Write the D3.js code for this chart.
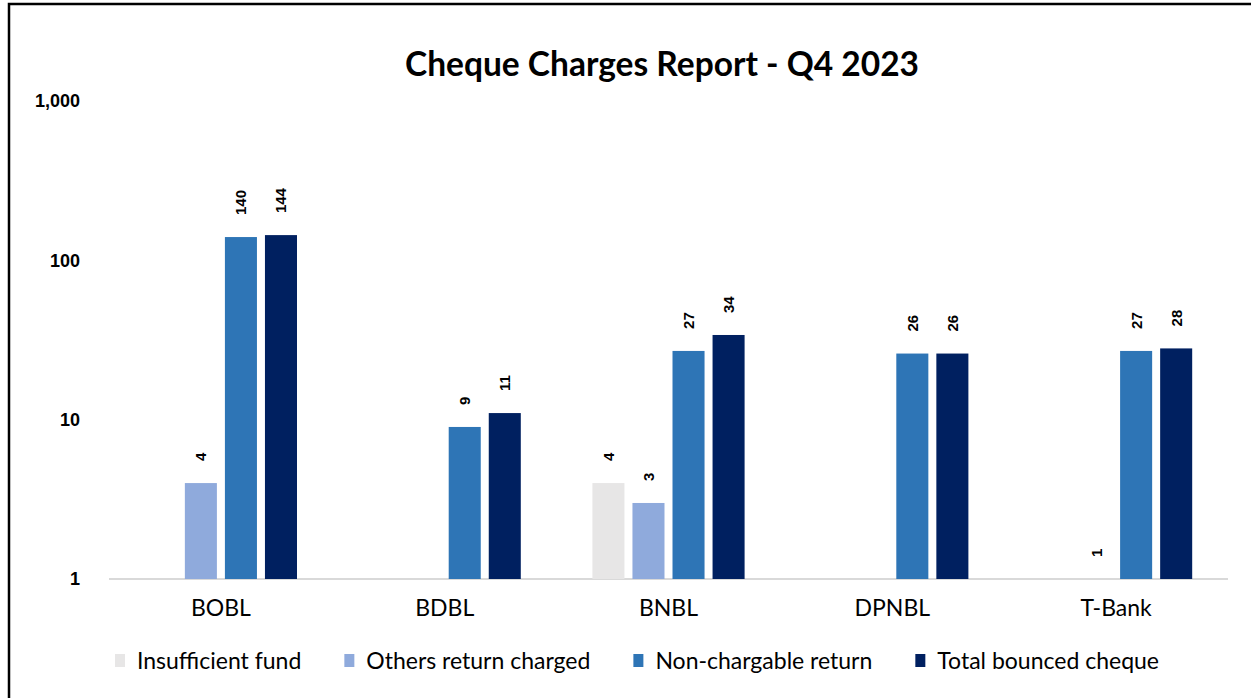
<!DOCTYPE html>
<html>
<head>
<meta charset="utf-8">
<script src="https://cdn.jsdelivr.net/npm/d3@7.9.0/dist/d3.min.js"></script>
<style>
  body { margin: 0; background: #fff; }
  svg { display: block; }
</style>
</head>
<body>
<svg id="chart" width="1251" height="698"></svg>
<script>
// chart data
const categories = ["BOBL", "BDBL", "BNBL", "DPNBL", "T-Bank"];
const seriesNames = ["Insufficient fund", "Others return charged", "Non-chargable return", "Total bounced cheque"];
const insufficientFund = [null, null, 4, null, null];
const othersReturnCharged = [4, null, 3, null, 1];
const nonChargableReturn = [140, 9, 27, 26, 27];
const totalBouncedCheque = [144, 11, 34, 26, 28];
const yTicks = [1, 10, 100, 1000];
const seriesColors = ["#e7e6e6", "#8faadc", "#2e75b6", "#002060"];

const seriesValues = [insufficientFund, othersReturnCharged, nonChargableReturn, totalBouncedCheque];

const svg = d3.select("#chart");
const labelFont = "Lato, 'Open Sans', sans-serif";

// outer frame
svg.append("rect")
  .attr("x", 9).attr("y", 4)
  .attr("width", 1400).attr("height", 900)
  .attr("fill", "none")
  .attr("stroke", "#000")
  .attr("stroke-width", 2.5);

// scales
let x0 = d3.scaleBand().domain(categories).range([109, 1228]).paddingInner(0.32).paddingOuter(0.16);
let x1 = d3.scaleBand().domain(seriesNames).range([0, x0.bandwidth()]).paddingInner(0.2);
let y = d3.scaleLog().domain([1, 1000]).range([579, 101]);

// title
svg.append("text")
  .attr("x", 662).attr("y", 76)
  .attr("text-anchor", "middle")
  .attr("font-family", labelFont)
  .attr("font-weight", "bold")
  .attr("font-size", 33.5)
  .attr("fill", "#000")
  .text("Cheque Charges Report - Q4 2023");

// y axis (labels only)
let yAxis = svg.append("g")
  .attr("transform", "translate(80,0)")
  .call(d3.axisLeft(y).tickValues(yTicks).tickFormat(d3.format(",")).tickSize(0).tickPadding(0));
yAxis.select(".domain").remove();
yAxis.selectAll("text")
  .attr("font-family", "'Liberation Sans', Arial, sans-serif")
  .attr("font-weight", "bold")
  .attr("font-size", 18)
  .attr("fill", "#000");

// baseline
svg.append("line")
  .attr("x1", 109).attr("x2", 1228)
  .attr("y1", y(1)).attr("y2", y(1))
  .attr("stroke", "#d9d9d9")
  .attr("stroke-width", 2);

// x axis (labels only)
let xAxis = svg.append("g")
  .attr("transform", `translate(0,${y(1)})`)
  .call(d3.axisBottom(x0).tickSize(0));
xAxis.select(".domain").remove();
xAxis.selectAll("text")
  .attr("y", 37).attr("dy", null)
  .attr("font-family", labelFont)
  .attr("font-size", 23)
  .attr("fill", "#000");

// bars + rotated value labels
categories.forEach((cat, ci) => {
  let g = svg.append("g").attr("transform", `translate(${x0(cat)},0)`);
  seriesNames.forEach((name, si) => {
    let v = seriesValues[si][ci];
    if (v == null) return;
    g.append("rect")
      .attr("x", x1(name))
      .attr("y", y(v))
      .attr("width", x1.bandwidth())
      .attr("height", y(1) - y(v))
      .attr("fill", seriesColors[si]);
    let lx = x1(name) + x1.bandwidth() / 2;
    let ly = y(v) - 22;
    g.append("text")
      .attr("transform", `translate(${lx},${ly}) rotate(-90)`)
      .attr("dominant-baseline", "central")
      .attr("font-family", "'Liberation Sans', Arial, sans-serif")
      .attr("font-weight", "bold")
      .attr("font-size", 15)
      .attr("fill", "#000")
      .text(v);
  });
});

// legend
let legend = svg.append("g");
let cursor = 0;
seriesNames.forEach((name, si) => {
  let item = legend.append("g").attr("transform", `translate(${cursor},0)`);
  item.append("rect")
    .attr("x", 0).attr("y", -7)
    .attr("width", 10).attr("height", 13)
    .attr("fill", seriesColors[si]);
  let t = item.append("text")
    .attr("x", 22).attr("y", 8)
    .attr("font-family", labelFont)
    .attr("font-size", 23)
    .attr("fill", "#000")
    .text(name);
  cursor += 22 + t.node().getComputedTextLength() + 43;
});
let legendWidth = cursor - 43;
legend.attr("transform", `translate(${637 - legendWidth / 2},661)`);
</script>
</body>
</html>
